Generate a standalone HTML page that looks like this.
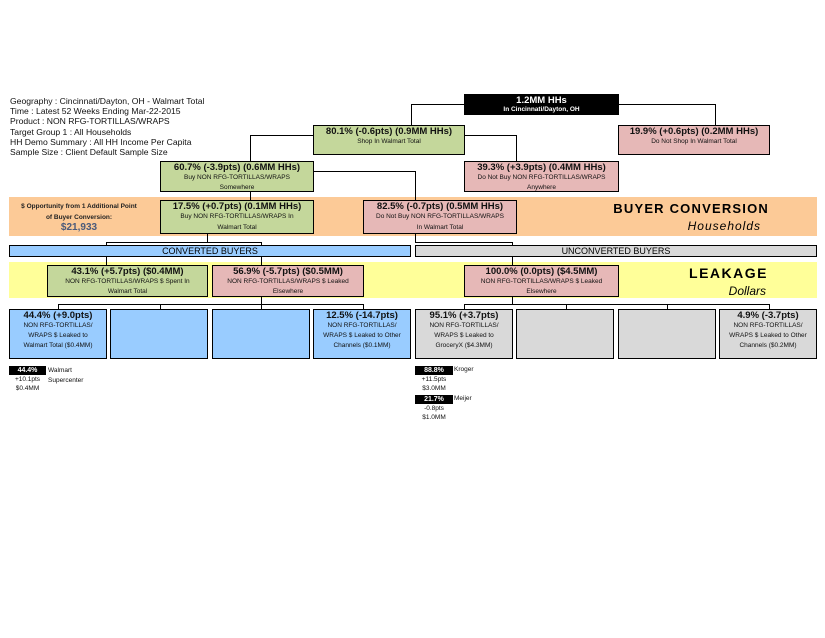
<!DOCTYPE html>
<html><head><meta charset="utf-8"><style>
body{margin:0;width:825px;height:638px;background:#fff;position:relative;font-family:"Liberation Sans",Arial,sans-serif;overflow:hidden}
div{position:absolute;box-sizing:border-box;white-space:nowrap}
div div{position:static}
.b{border:1px solid #000;text-align:center}
.g{background:#c4d79b}.p{background:#e6b8b7}.bl{background:#99ccff}.gr{background:#d9d9d9}
.t{font-size:9.5px;font-weight:bold;color:#111;line-height:11px}
.s{font-size:6.5px;line-height:9.5px;color:#111}
.h{background:#000;height:1px}.v{background:#000;width:1px}
.info{left:10px;font-size:8.6px;color:#111;line-height:10.2px}
.tag{background:#000;color:#fff;font-size:7px;font-weight:bold;text-align:center;height:9px;line-height:9px}
.sm{font-size:6.5px;color:#111}
</style></head><body>
<div class="info" style="top:96px">Geography : Cincinnati/Dayton, OH - Walmart Total<br>Time : Latest 52 Weeks Ending Mar-22-2015<br>Product : NON RFG-TORTILLAS/WRAPS<br>Target Group 1 : All Households<br>HH Demo Summary : All HH Income Per Capita<br>Sample Size : Client Default Sample Size</div>

<div style="left:9px;top:197px;width:808px;height:39px;background:#fcca97"></div>
<div style="left:9px;top:262px;width:808px;height:36px;background:#ffff99"></div>

<div class="h" style="left:411px;top:104px;width:53px"></div><div class="v" style="left:411px;top:104px;height:21px"></div>
<div class="h" style="left:619px;top:104px;width:96px"></div><div class="v" style="left:715px;top:104px;height:21px"></div>
<div class="h" style="left:465px;top:135px;width:51px"></div><div class="v" style="left:516px;top:135px;height:26px"></div>
<div class="h" style="left:250px;top:135px;width:63px"></div><div class="v" style="left:250px;top:135px;height:26px"></div>
<div class="h" style="left:313px;top:171px;width:102px"></div><div class="v" style="left:415px;top:171px;height:29px"></div>
<div class="v" style="left:250px;top:192px;height:8px"></div>
<div class="v" style="left:207px;top:233px;height:10px"></div>
<div class="h" style="left:106px;top:242px;width:156px"></div>
<div class="v" style="left:106px;top:242px;height:23px"></div><div class="v" style="left:261px;top:242px;height:23px"></div>
<div class="v" style="left:415px;top:233px;height:9px"></div>
<div class="h" style="left:415px;top:242px;width:97px"></div><div class="v" style="left:512px;top:242px;height:23px"></div>
<div class="v" style="left:261px;top:297px;height:7px"></div>
<div class="h" style="left:58px;top:304px;width:306px"></div>
<div class="v" style="left:58px;top:304px;height:5px"></div><div class="v" style="left:160px;top:304px;height:5px"></div><div class="v" style="left:261px;top:304px;height:5px"></div><div class="v" style="left:363px;top:304px;height:5px"></div>
<div class="v" style="left:512px;top:297px;height:7px"></div>
<div class="h" style="left:464px;top:304px;width:306px"></div>
<div class="v" style="left:464px;top:304px;height:5px"></div><div class="v" style="left:566px;top:304px;height:5px"></div><div class="v" style="left:667px;top:304px;height:5px"></div><div class="v" style="left:769px;top:304px;height:5px"></div>

<div class="b" style="left:464px;top:94px;width:155px;height:21px;background:#000;color:#fff"><div style="font-size:9.5px;font-weight:bold;margin-top:1px;line-height:10px">1.2MM HHs</div><div style="font-size:6.5px;font-weight:bold;line-height:8px">In Cincinnati/Dayton, OH</div></div>
<div class="b g" style="left:313px;top:125px;width:152px;height:30px"><div class="t">80.1% (-0.6pts) (0.9MM HHs)</div><div class="s">Shop In Walmart Total</div></div>
<div class="b p" style="left:618px;top:125px;width:152px;height:30px"><div class="t">19.9% (+0.6pts) (0.2MM HHs)</div><div class="s">Do Not Shop In Walmart Total</div></div>
<div class="b g" style="left:160px;top:161px;width:154px;height:31px"><div class="t">60.7% (-3.9pts) (0.6MM HHs)</div><div class="s">Buy NON RFG-TORTILLAS/WRAPS<br>Somewhere</div></div>
<div class="b p" style="left:464px;top:161px;width:155px;height:31px"><div class="t">39.3% (+3.9pts) (0.4MM HHs)</div><div class="s">Do Not Buy NON RFG-TORTILLAS/WRAPS<br>Anywhere</div></div>
<div class="b g" style="left:160px;top:200px;width:154px;height:34px"><div class="t">17.5% (+0.7pts) (0.1MM HHs)</div><div class="s" style="line-height:10.5px">Buy NON RFG-TORTILLAS/WRAPS In<br>Walmart Total</div></div>
<div class="b p" style="left:363px;top:200px;width:154px;height:34px"><div class="t">82.5% (-0.7pts) (0.5MM HHs)</div><div class="s" style="line-height:10.5px">Do Not Buy NON RFG-TORTILLAS/WRAPS<br>In Walmart Total</div></div>

<div style="left:14px;top:201px;width:130px;text-align:center;font-size:6.5px;font-weight:bold;line-height:11px;color:#222">$ Opportunity from 1 Additional Point<br>of Buyer Conversion:</div>
<div style="left:14px;top:222px;width:130px;text-align:center;font-size:10px;font-weight:bold;color:#4a5a7a">$21,933</div>
<div style="left:580px;top:201px;width:189px;text-align:right;font-size:13px;font-weight:bold;letter-spacing:1.2px">BUYER CONVERSION</div>
<div style="left:600px;top:219px;width:161px;text-align:right;font-size:12px;font-style:italic;letter-spacing:1px">Households</div>

<div class="b bl" style="left:9px;top:245px;width:402px;height:12px;font-size:9px;line-height:11px">CONVERTED BUYERS</div>
<div class="b gr" style="left:415px;top:245px;width:402px;height:12px;font-size:9px;line-height:11px">UNCONVERTED BUYERS</div>

<div class="b g" style="left:47px;top:265px;width:161px;height:32px"><div class="t">43.1% (+5.7pts) ($0.4MM)</div><div class="s">NON RFG-TORTILLAS/WRAPS $ Spent In<br>Walmart Total</div></div>
<div class="b p" style="left:212px;top:265px;width:152px;height:32px"><div class="t">56.9% (-5.7pts) ($0.5MM)</div><div class="s">NON RFG-TORTILLAS/WRAPS $ Leaked<br>Elsewhere</div></div>
<div class="b p" style="left:464px;top:265px;width:155px;height:32px"><div class="t">100.0% (0.0pts) ($4.5MM)</div><div class="s">NON RFG-TORTILLAS/WRAPS $ Leaked<br>Elsewhere</div></div>
<div style="left:640px;top:265px;width:128px;text-align:right;font-size:14px;font-weight:bold;letter-spacing:1.5px">LEAKAGE</div>
<div style="left:640px;top:284px;width:126px;text-align:right;font-size:12px;font-style:italic">Dollars</div>

<div class="b bl" style="left:9px;top:309px;width:98px;height:50px"><div class="t">44.4% (+9.0pts)</div><div class="s" style="line-height:10px">NON RFG-TORTILLAS/<br>WRAPS $ Leaked to<br>Walmart Total ($0.4MM)</div></div>
<div class="b bl" style="left:110px;top:309px;width:98px;height:50px"></div>
<div class="b bl" style="left:212px;top:309px;width:98px;height:50px"></div>
<div class="b bl" style="left:313px;top:309px;width:98px;height:50px"><div class="t">12.5% (-14.7pts)</div><div class="s" style="line-height:10px">NON RFG-TORTILLAS/<br>WRAPS $ Leaked to Other<br>Channels ($0.1MM)</div></div>
<div class="b gr" style="left:415px;top:309px;width:98px;height:50px"><div class="t">95.1% (+3.7pts)</div><div class="s" style="line-height:10px">NON RFG-TORTILLAS/<br>WRAPS $ Leaked to<br>GroceryX ($4.3MM)</div></div>
<div class="b gr" style="left:516px;top:309px;width:98px;height:50px"></div>
<div class="b gr" style="left:618px;top:309px;width:98px;height:50px"></div>
<div class="b gr" style="left:719px;top:309px;width:98px;height:50px"><div class="t">4.9% (-3.7pts)</div><div class="s" style="line-height:10px">NON RFG-TORTILLAS/<br>WRAPS $ Leaked to Other<br>Channels ($0.2MM)</div></div>

<div class="tag" style="left:9px;top:366px;width:37px">44.4%</div>
<div class="sm" style="left:48px;top:366px;line-height:10px">Walmart<br>Supercenter</div>
<div class="sm" style="left:9px;top:375px;width:37px;text-align:center;line-height:9px">+10.1pts<br>$0.4MM</div>

<div class="tag" style="left:415px;top:366px;width:38px">88.8%</div>
<div class="sm" style="left:454px;top:366px">Kroger</div>
<div class="sm" style="left:415px;top:375px;width:38px;text-align:center;line-height:9px">+11.5pts<br>$3.0MM</div>
<div class="tag" style="left:415px;top:395px;width:38px">21.7%</div>
<div class="sm" style="left:454px;top:395px">Meijer</div>
<div class="sm" style="left:415px;top:404px;width:38px;text-align:center;line-height:9px">-0.8pts<br>$1.0MM</div>
</body></html>
